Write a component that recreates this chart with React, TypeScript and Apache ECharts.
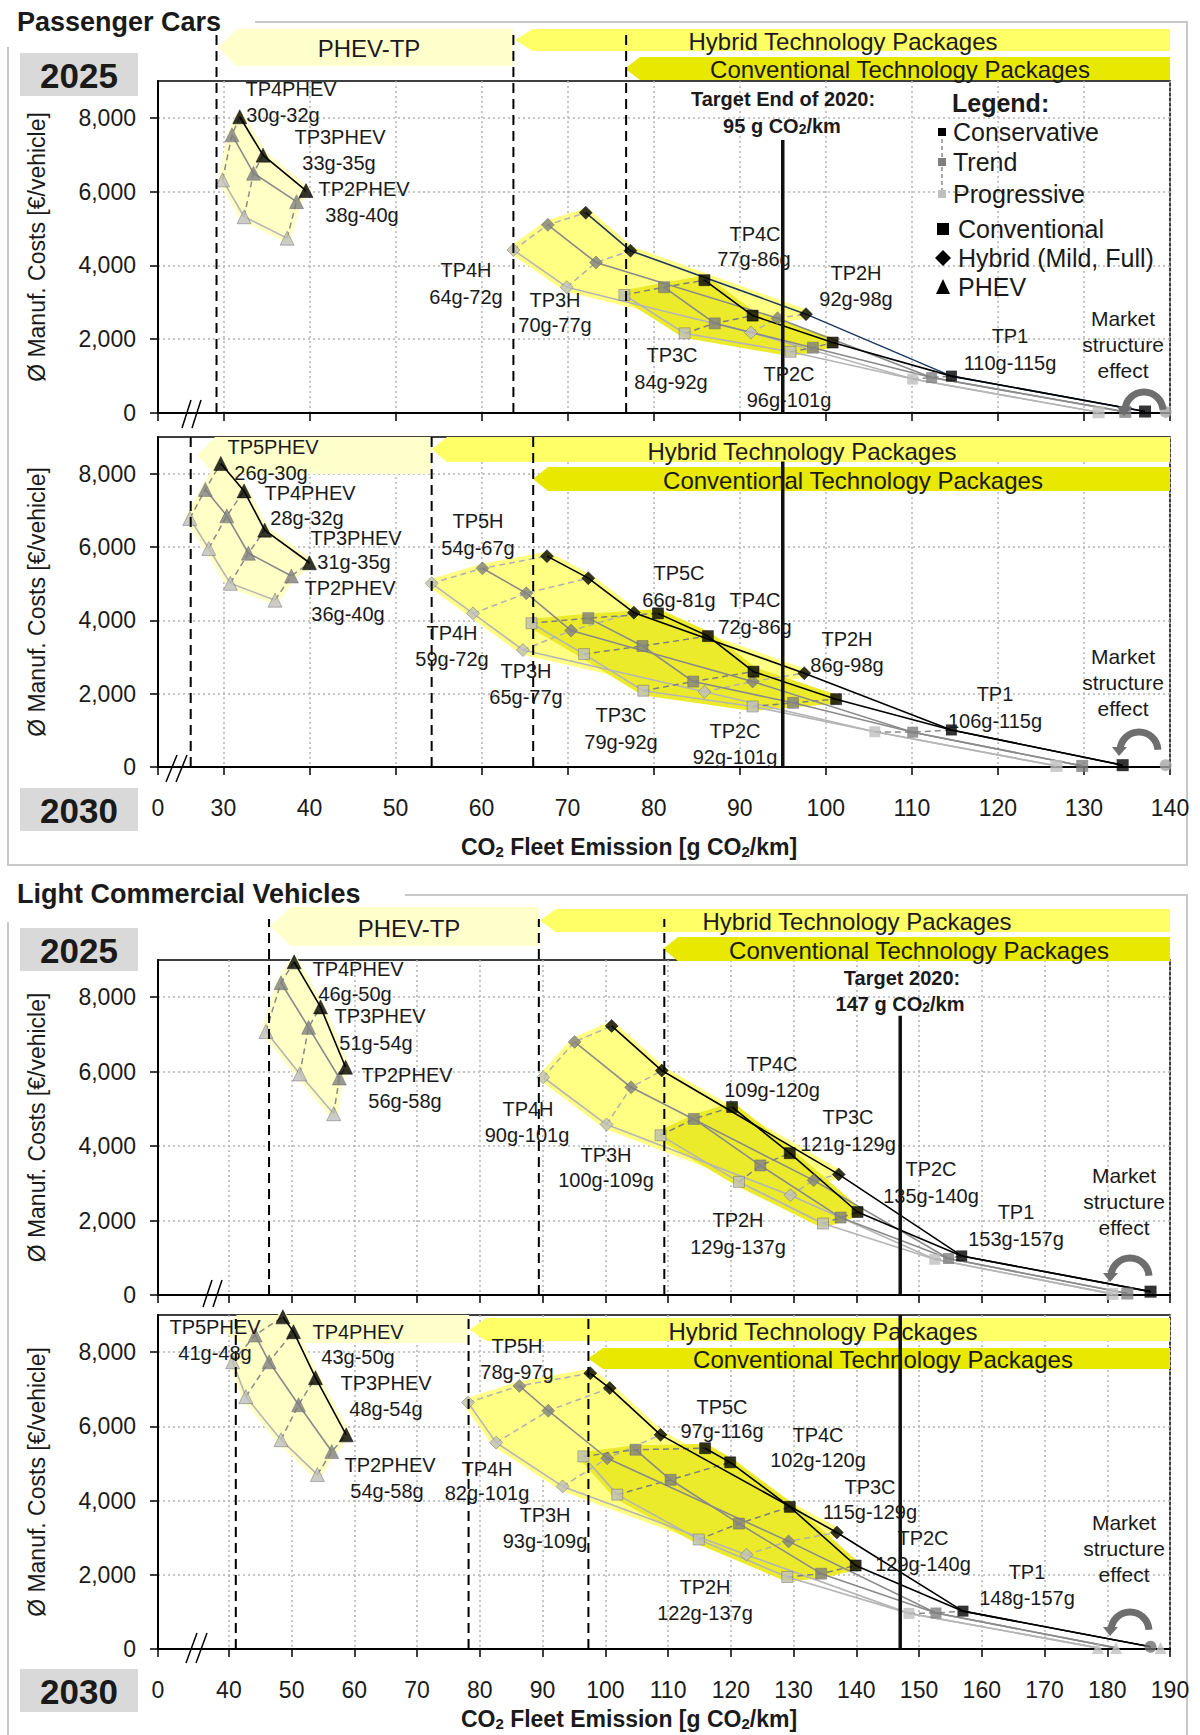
import React, { useEffect, useRef } from "react";
import * as echarts from "echarts";

const FONT = "'Liberation Sans', Arial, Helvetica, sans-serif";

// ---------------- DATA ----------------
// [CO2 fleet emission g/km, average manufacturing cost €/vehicle]
// Each technology: conservative, trend, progressive; packages from the highest TP down.

// Passenger cars 2025
const PC25_PHEV_CONS = [[31.9, 8030], [34.6, 6990], [39.6, 6030]];
const PC25_PHEV_TREND = [[31.0, 7540], [33.5, 6500], [38.5, 5730]];
const PC25_PHEV_PROG = [[29.9, 6320], [32.4, 5320], [37.4, 4740]];
const PC25_HYB_CONS = [[72.1, 5430], [77.3, 4400], [97.7, 2680]];
const PC25_HYB_TREND = [[67.7, 5100], [73.3, 4080], [94.4, 2570]];
const PC25_HYB_PROG = [[63.7, 4420], [69.9, 3410], [91.3, 2180]];
const PC25_CONV_CONS = [[85.9, 3600], [91.5, 2640], [100.8, 1910]];
const PC25_CONV_TREND = [[81.2, 3410], [87.1, 2430], [98.5, 1770]];
const PC25_CONV_PROG = [[76.6, 3200], [83.6, 2160], [95.9, 1660]];
const PC25_TP1 = [[114.6, 1000], [112.3, 960], [110.1, 920]];
const PC25_BASE = [[137.1, 40], [134.8, 30], [131.7, 20]];
const PC25_MARKET = [[139.5, 30]];

// Passenger cars 2030
const PC30_PHEV_CONS = [[29.7, 8280], [32.4, 7530], [34.8, 6460], [40.0, 5570]];
const PC30_PHEV_TREND = [[27.9, 7570], [30.4, 6850], [32.9, 5830], [37.9, 5210]];
const PC30_PHEV_PROG = [[26.1, 6780], [28.3, 5960], [30.8, 5010], [36.0, 4550]];
const PC30_HYB_CONS = [[67.6, 5750], [72.4, 5150], [77.7, 4210], [97.5, 2560]];
const PC30_HYB_TREND = [[60.1, 5420], [65.2, 4740], [70.4, 3720], [91.5, 2330]];
const PC30_HYB_PROG = [[54.2, 5010], [59.0, 4190], [64.8, 3190], [85.9, 2050]];
const PC30_CONV_CONS = [[80.5, 4190], [86.3, 3570], [91.6, 2600], [101.2, 1850]];
const PC30_CONV_TREND = [[72.4, 4060], [78.7, 3300], [84.6, 2330], [96.2, 1750]];
const PC30_CONV_PROG = [[65.8, 3920], [71.9, 3080], [78.8, 2080], [91.5, 1650]];
const PC30_TP1 = [[114.6, 1010], [110.1, 950], [105.7, 960]];
const PC30_BASE = [[134.5, 50], [129.8, 30], [126.8, 30]];
const PC30_MARKET = [[139.5, 50]];

// Light commercial vehicles 2025
const LCV25_PHEV_CONS = [[50.4, 8950], [54.6, 7740], [58.6, 6120]];
const LCV25_PHEV_TREND = [[48.3, 8390], [52.7, 7190], [57.6, 5830]];
const LCV25_PHEV_PROG = [[45.9, 7080], [51.3, 5940], [56.7, 4870]];
const LCV25_HYB_CONS = [[101.0, 7230], [109.0, 6030], [137.2, 3240]];
const LCV25_HYB_TREND = [[95.1, 6800], [104.1, 5580], [133.2, 3080]];
const LCV25_HYB_PROG = [[90.1, 5850], [100.2, 4580], [129.5, 2680]];
const LCV25_CONV_CONS = [[120.2, 5050], [129.4, 3810], [140.2, 2230]];
const LCV25_CONV_TREND = [[114.1, 4730], [124.7, 3480], [137.5, 2080]];
const LCV25_CONV_PROG = [[108.8, 4290], [121.3, 3040], [134.7, 1920]];
const LCV25_TP1 = [[156.8, 1050], [154.7, 980], [152.5, 960]];
const LCV25_BASE = [[186.9, 90], [183.2, 40], [180.8, 30]];
const LCV25_MARKET: number[][] = [];

// Light commercial vehicles 2030
const LCV30_PHEV_CONS = [[48.6, 8950], [50.3, 8550], [53.8, 7310], [58.7, 5770]];
const LCV30_PHEV_TREND = [[44.2, 8460], [46.4, 7740], [51.1, 6580], [56.4, 5320]];
const LCV30_PHEV_PROG = [[40.6, 7740], [42.7, 6800], [48.3, 5640], [54.1, 4700]];
const LCV30_HYB_CONS = [[97.6, 7430], [100.7, 7030], [108.8, 5770], [136.9, 3140]];
const LCV30_HYB_TREND = [[86.3, 7090], [90.9, 6420], [100.3, 5140], [129.2, 2900]];
const LCV30_HYB_PROG = [[78.1, 6640], [82.6, 5560], [93.2, 4380], [122.5, 2540]];
const LCV30_CONV_CONS = [[115.9, 5410], [119.9, 5030], [129.4, 3830], [139.9, 2250]];
const LCV30_CONV_TREND = [[104.8, 5370], [110.4, 4560], [121.3, 3380], [134.4, 2030]];
const LCV30_CONV_PROG = [[96.5, 5190], [101.9, 4160], [114.9, 2950], [129.0, 1940]];
const LCV30_TP1 = [[157.0, 1020], [152.7, 970], [148.4, 960]];
const LCV30_BASE = [[186.9, 60], [181.4, 30], [178.5, 30]];
const LCV30_MARKET = [[188.5, 30]];

// Targets and package boundaries
const PC_TARGET = 95;
const LCV_TARGET = 147;
const PC25_BOUNDS = [29.2, 63.7, 76.8];
const PC30_BOUNDS = [26.2, 54.2, 66.0];
const LCV25_BOUNDS = [46.4, 89.4, 109.4];
const LCV30_BOUNDS = [41.1, 78.2, 97.3];

// Axes
const PC_X_ORIGIN = 22.4;
const PC_X_TICKS = [30, 40, 50, 60, 70, 80, 90, 100, 110, 120, 130, 140];
const LCV_X_ORIGIN = 28.7;
const LCV_X_TICKS = [40, 50, 60, 70, 80, 90, 100, 110, 120, 130, 140, 150, 160, 170, 180, 190];
const Y_TICKS = [0, 2000, 4000, 6000, 8000];
const Y_MAX = 9000;

// Labels: [package, range]
const PC25_LABELS = [
  ["TP4PHEV", "30g-32g"], ["TP3PHEV", "33g-35g"], ["TP2PHEV", "38g-40g"], ["TP4H", "64g-72g"],
  ["TP3H", "70g-77g"], ["TP4C", "77g-86g"], ["TP2H", "92g-98g"], ["TP3C", "84g-92g"],
  ["TP2C", "96g-101g"], ["TP1", "110g-115g"],
];
const PC30_LABELS = [
  ["TP5PHEV", "26g-30g"], ["TP4PHEV", "28g-32g"], ["TP3PHEV", "31g-35g"], ["TP2PHEV", "36g-40g"],
  ["TP5H", "54g-67g"], ["TP4H", "59g-72g"], ["TP3H", "65g-77g"], ["TP5C", "66g-81g"],
  ["TP4C", "72g-86g"], ["TP2H", "86g-98g"], ["TP3C", "79g-92g"], ["TP2C", "92g-101g"], ["TP1", "106g-115g"],
];
const LCV25_LABELS = [
  ["TP4PHEV", "46g-50g"], ["TP3PHEV", "51g-54g"], ["TP2PHEV", "56g-58g"], ["TP4H", "90g-101g"],
  ["TP3H", "100g-109g"], ["TP4C", "109g-120g"], ["TP3C", "121g-129g"], ["TP2C", "135g-140g"],
  ["TP2H", "129g-137g"], ["TP1", "153g-157g"],
];
const LCV30_LABELS = [
  ["TP5PHEV", "41g-48g"], ["TP4PHEV", "43g-50g"], ["TP3PHEV", "48g-54g"], ["TP2PHEV", "54g-58g"],
  ["TP5H", "78g-97g"], ["TP4H", "82g-101g"], ["TP3H", "93g-109g"], ["TP5C", "97g-116g"],
  ["TP4C", "102g-120g"], ["TP3C", "115g-129g"], ["TP2C", "129g-140g"], ["TP2H", "122g-137g"], ["TP1", "148g-157g"],
];

// ---------------- LAYOUT ----------------
const GRIDS = [
  { left: 158, top: 81, width: 1012, height: 332 },
  { left: 158, top: 437, width: 1012, height: 330 },
  { left: 158, top: 960, width: 1012, height: 335 },
  { left: 158, top: 1315, width: 1012, height: 334 },
];
// label positions: [x1, y1, x2, y2]
const LABEL_POS = [
  [[291, 89, 283, 115], [340, 137, 339, 163], [364, 189, 362, 215], [466, 270, 466, 297], [555, 300, 555, 325],
   [755, 234, 754, 259], [856, 273, 856, 299], [672, 355, 671, 382], [789, 374, 789, 400], [1010, 336, 1010, 363]],
  [[273, 447, 271, 473], [310, 493, 307, 518], [356, 538, 354, 562], [350, 588, 348, 614], [478, 521, 478, 548],
   [452, 633, 452, 659], [526, 671, 526, 697], [679, 573, 679, 600], [755, 600, 755, 627], [847, 639, 847, 665],
   [621, 715, 621, 742], [735, 731, 735, 757], [995, 694, 995, 721]],
  [[358, 969, 355, 994], [380, 1016, 376, 1043], [407, 1075, 405, 1101], [528, 1109, 527, 1135], [606, 1155, 606, 1180],
   [772, 1064, 772, 1090], [848, 1117, 848, 1144], [931, 1169, 931, 1196], [738, 1220, 738, 1247], [1016, 1212, 1016, 1239]],
  [[215, 1327, 215, 1353], [358, 1332, 358, 1357], [386, 1383, 386, 1409], [390, 1465, 387, 1491], [517, 1346, 517, 1372],
   [487, 1469, 487, 1493], [545, 1515, 545, 1541], [722, 1407, 722, 1431], [818, 1435, 818, 1460], [870, 1487, 870, 1512],
   [923, 1538, 923, 1564], [705, 1587, 705, 1613], [1027, 1572, 1027, 1598]],
];
const MARKET_POS = [[1123, 318], [1123, 656], [1124, 1175], [1124, 1522]];
const ARC_POS = [[1144, 411], [1139, 751], [1130, 1277], [1130, 1631]];
const BREAK_POS = [[182, 428, 191, 400], [166, 782, 177, 755], [203, 1307, 212, 1280], [186, 1663, 197, 1633]];
const YEAR_BOX = [["2025", 53], ["2030", 788], ["2025", 928], ["2030", 1669]];

const PANELS = [
  {
    phev: [PC25_PHEV_CONS, PC25_PHEV_TREND, PC25_PHEV_PROG], hyb: [PC25_HYB_CONS, PC25_HYB_TREND, PC25_HYB_PROG],
    conv: [PC25_CONV_CONS, PC25_CONV_TREND, PC25_CONV_PROG], tp1: PC25_TP1, base: PC25_BASE, market: PC25_MARKET,
    target: PC_TARGET, targetTop: 7400, bounds: PC25_BOUNDS, boundTop: 10330, labels: PC25_LABELS,
    xo: PC_X_ORIGIN, xmax: 140, xt: PC_X_TICKS, showX: false, hybCons: "#1f3864",
    baseSym: ["rect", "rect", "rect"], baseCol: ["#000", "#7f7f7f", "#bfbfbf"], mSym: "circle", mCol: "#a6a6a6",
  },
  {
    phev: [PC30_PHEV_CONS, PC30_PHEV_TREND, PC30_PHEV_PROG], hyb: [PC30_HYB_CONS, PC30_HYB_TREND, PC30_HYB_PROG],
    conv: [PC30_CONV_CONS, PC30_CONV_TREND, PC30_CONV_PROG], tp1: PC30_TP1, base: PC30_BASE, market: PC30_MARKET,
    target: PC_TARGET, targetTop: 8330, bounds: PC30_BOUNDS, boundTop: 9000, labels: PC30_LABELS,
    xo: PC_X_ORIGIN, xmax: 140, xt: PC_X_TICKS, showX: true, hybCons: "#000",
    baseSym: ["rect", "rect", "rect"], baseCol: ["#000", "#7f7f7f", "#bfbfbf"], mSym: "circle", mCol: "#a6a6a6",
  },
  {
    phev: [LCV25_PHEV_CONS, LCV25_PHEV_TREND, LCV25_PHEV_PROG], hyb: [LCV25_HYB_CONS, LCV25_HYB_TREND, LCV25_HYB_PROG],
    conv: [LCV25_CONV_CONS, LCV25_CONV_TREND, LCV25_CONV_PROG], tp1: LCV25_TP1, base: LCV25_BASE, market: LCV25_MARKET,
    target: LCV_TARGET, targetTop: 7500, bounds: LCV25_BOUNDS, boundTop: 10100, labels: LCV25_LABELS,
    xo: LCV_X_ORIGIN, xmax: 190, xt: LCV_X_TICKS, showX: false, hybCons: "#000",
    baseSym: ["rect", "rect", "rect"], baseCol: ["#000", "#7f7f7f", "#bfbfbf"], mSym: "circle", mCol: "#a6a6a6",
  },
  {
    phev: [LCV30_PHEV_CONS, LCV30_PHEV_TREND, LCV30_PHEV_PROG], hyb: [LCV30_HYB_CONS, LCV30_HYB_TREND, LCV30_HYB_PROG],
    conv: [LCV30_CONV_CONS, LCV30_CONV_TREND, LCV30_CONV_PROG], tp1: LCV30_TP1, base: LCV30_BASE, market: LCV30_MARKET,
    target: LCV_TARGET, targetTop: 9000, bounds: LCV30_BOUNDS, boundTop: 9000, labels: LCV30_LABELS,
    xo: LCV_X_ORIGIN, xmax: 190, xt: LCV_X_TICKS, showX: true, hybCons: "#000",
    baseSym: ["circle", "triangle", "triangle"], baseCol: ["#6f6f6f", "#bfbfbf", "#bfbfbf"], mSym: "triangle", mCol: "#bfbfbf",
  },
];

// banners: [tipX, fullX, rightX, top, bottom, fill, text, textX, textY]
const BANNERS: any[] = [
  [218, 237, 513, 29, 66, "#ffffcc", "PHEV-TP", 369, 48],
  [515, 533, 1170, 29, 51, "#ffff66", "Hybrid Technology Packages", 843, 41],
  [625, 640, 1170, 57, 80, "#e8e800", "Conventional Technology Packages", 900, 69],
  [197, 215, 432, 437, 474, "#ffffcc", "", 0, 0],
  [432, 447, 1170, 437, 462, "#ffff66", "Hybrid Technology Packages", 802, 451],
  [533, 548, 1170, 467, 491, "#e8e800", "Conventional Technology Packages", 853, 480],
  [270, 291, 539, 907, 946, "#ffffcc", "PHEV-TP", 409, 928],
  [540, 556, 1170, 909, 932, "#ffff66", "Hybrid Technology Packages", 857, 921],
  [663, 678, 1170, 937, 961, "#e8e800", "Conventional Technology Packages", 919, 950],
  [222, 237, 469, 1315, 1343, "#ffffcc", "", 0, 0],
  [470, 486, 1170, 1318, 1341, "#ffff66", "Hybrid Technology Packages", 823, 1331],
  [588, 603, 1170, 1348, 1369, "#e8e800", "Conventional Technology Packages", 883, 1359],
];

const SC_MARK = ["#000000", "#7f7f7f", "#bfbfbf"];
const SC_LINE = ["#000000", "#8a8a8a", "#b5b5b5"];

function txt(x: number, y: number, text: string, size: number, extra: any = {}) {
  return {
    type: "text", x, y, z: 20, silent: true,
    style: {
      text, fill: "#1a1a1a", fontSize: size, fontFamily: FONT, fontWeight: extra.bold ? "bold" : "normal",
      align: extra.align || "center", textAlign: extra.align || "center",
      verticalAlign: "middle", textVerticalAlign: "middle", rich: extra.rich,
    },
  };
}

function buildOption() {
  const series: any[] = [];
  const graphic: any[] = [];

  PANELS.forEach((P, g) => {
    const ax = { xAxisIndex: g, yAxisIndex: g };
    const techs = [
      { key: "phev", sets: P.phev, sym: "triangle", size: 14, fill: "#ffffc6", z: 2, ext: false, dash: "#8a8a8a" },
      { key: "hyb", sets: P.hyb, sym: "diamond", size: 13, fill: "#ffff84", z: 2, ext: true, dash: "#b0b0b0" },
      { key: "conv", sets: P.conv, sym: "rect", size: 11, fill: "#ebeb2c", z: 3, ext: true, dash: "#7f7f7f" },
    ];
    // hull fills
    techs.forEach((t) => {
      const [c, tr, pr] = t.sets;
      const n = c.length;
      const outline = [...c, tr[n - 1], ...pr.slice().reverse(), tr[0]];
      series.push({
        type: "custom", ...ax, z: t.z, silent: true, clip: false, data: [outline[0]],
        renderItem: (_p: any, api: any) => ({
          type: "polygon",
          shape: { points: outline.map((p) => api.coord(p)) },
          style: { fill: t.fill, stroke: t.fill, lineWidth: 9, lineJoin: "round" },
        }),
      });
    });
    // boundaries & target
    P.bounds.forEach((b) => {
      series.push({
        type: "line", ...ax, data: [[b, 0], [b, P.boundTop]], symbol: "none", clip: false, z: 6, silent: true,
        lineStyle: { color: "#000", width: 2, type: [10, 6] },
      });
    });
    series.push({
      type: "line", ...ax, data: [[P.target, 0], [P.target, P.targetTop]], symbol: "none", clip: false, z: 6, silent: true,
      lineStyle: { color: "#111", width: 3.5 },
    });
    // scenario lines (progressive first, conservative on top)
    techs.forEach((t) => {
      [2, 1, 0].forEach((s) => {
        const pts = t.sets[s];
        const data = t.ext ? [...pts, P.tp1[s], P.base[s]] : pts;
        const color = s === 0 && t.key === "hyb" ? P.hybCons : SC_LINE[s];
        series.push({
          type: "line", ...ax, data, symbol: "none", z: 4 + (2 - s) * 0.1, silent: true,
          lineStyle: { color, width: 1.6 },
        });
      });
      const n = t.sets[0].length;
      for (let i = 0; i < n; i++) {
        series.push({
          type: "line", ...ax, data: [t.sets[2][i], t.sets[1][i], t.sets[0][i]], symbol: "none", z: 4, silent: true,
          lineStyle: { color: t.dash, width: 1.5, type: [6, 4] },
        });
      }
    });
    series.push({
      type: "line", ...ax, data: [P.tp1[2], P.tp1[1], P.tp1[0]], symbol: "none", z: 4, silent: true,
      lineStyle: { color: "#8a8a8a", width: 1.5, type: [6, 4] },
    });
    // markers
    techs.forEach((t) => {
      [2, 1, 0].forEach((s) => {
        series.push({
          type: "scatter", ...ax, data: t.sets[s], symbol: t.sym, symbolSize: t.size, z: 5 + (2 - s) * 0.1, silent: true,
          itemStyle: { color: SC_MARK[s], borderColor: s === 0 ? "#000" : "#6a6a6a", borderWidth: 0.6 },
        });
      });
    });
    [2, 1, 0].forEach((s) => {
      series.push({
        type: "scatter", ...ax, data: [P.tp1[s]], symbol: "rect", symbolSize: 11, z: 5.5, silent: true,
        itemStyle: { color: SC_MARK[s] },
      });
      series.push({
        type: "scatter", ...ax, data: [P.base[s]], symbol: P.baseSym[s], symbolSize: 12, z: 5.5, silent: true, clip: false,
        itemStyle: { color: P.baseCol[s] },
      });
    });
    if (P.market.length) {
      series.push({
        type: "scatter", ...ax, data: P.market, symbol: P.mSym, symbolSize: 12, z: 5.5, silent: true, clip: false,
        itemStyle: { color: P.mCol },
      });
    }

    // labels
    P.labels.forEach((lab, i) => {
      const pos = LABEL_POS[g][i];
      graphic.push(txt(pos[0], pos[1], lab[0], 20));
      graphic.push(txt(pos[2], pos[3], lab[1], 20));
    });
    const mp = MARKET_POS[g];
    graphic.push(txt(mp[0], mp[1], "Market", 21));
    graphic.push(txt(mp[0], mp[1] + 26, "structure", 21));
    graphic.push(txt(mp[0], mp[1] + 52, "effect", 21));
    const ap = ARC_POS[g];
    graphic.push({
      type: "arc", z: 20, silent: true,
      shape: { cx: ap[0], cy: ap[1], r: 19, startAngle: Math.PI * 1.02, endAngle: Math.PI * 1.98, clockwise: true },
      style: { stroke: "#6e6e6e", lineWidth: 7, fill: null },
    });
    graphic.push({
      type: "polygon", z: 20, silent: true,
      shape: { points: [[ap[0] - 27, ap[1] - 4], [ap[0] - 12, ap[1] - 4], [ap[0] - 20, ap[1] + 5]] },
      style: { fill: "#6e6e6e" },
    });
    const bp = BREAK_POS[g];
    graphic.push({ type: "line", z: 20, silent: true, shape: { x1: bp[0], y1: bp[1], x2: bp[2], y2: bp[3] }, style: { stroke: "#000", lineWidth: 1.5 } });
    graphic.push({ type: "line", z: 20, silent: true, shape: { x1: bp[0] + 10, y1: bp[1], x2: bp[2] + 10, y2: bp[3] }, style: { stroke: "#000", lineWidth: 1.5 } });
    const yb = YEAR_BOX[g];
    graphic.push({ type: "rect", z: 1, silent: true, shape: { x: 20, y: yb[1] as number, width: 118, height: 43 }, style: { fill: "#d9d9d9" } });
    graphic.push(txt(79, (yb[1] as number) + 22, yb[0] as string, 35, { bold: true }));
  });

  // banners
  BANNERS.forEach((b) => {
    const mid = (b[3] + b[4]) / 2;
    graphic.push({
      type: "polygon", z: 1, silent: true,
      shape: { points: [[b[0], mid], [b[1], b[3]], [b[2], b[3]], [b[2], b[4]], [b[1], b[4]]] },
      style: { fill: b[5] },
    });
    if (b[6]) graphic.push(txt(b[7], b[8], b[6], 24));
  });

  // frames & section titles
  graphic.push({ type: "polyline", z: 0, silent: true, shape: { points: [[255, 22], [1187, 22], [1187, 865], [8, 865], [8, 47]] }, style: { stroke: "#c8c8c8", lineWidth: 2, fill: null } });
  graphic.push({ type: "polyline", z: 0, silent: true, shape: { points: [[405, 895], [1187, 895], [1187, 1735]] }, style: { stroke: "#c8c8c8", lineWidth: 2, fill: null } });
  graphic.push({ type: "line", z: 0, silent: true, shape: { x1: 8, y1: 922, x2: 8, y2: 1735 }, style: { stroke: "#c8c8c8", lineWidth: 2 } });
  graphic.push(txt(17, 22, "Passenger Cars", 27, { bold: true, align: "left" }));
  graphic.push(txt(17, 894, "Light Commercial Vehicles", 27, { bold: true, align: "left" }));

  // targets
  const sub = { s: { fontSize: 14, fontWeight: "bold", fontFamily: FONT, verticalAlign: "bottom", lineHeight: 14 } };
  graphic.push(txt(783, 99, "Target End of 2020:", 20, { bold: true }));
  graphic.push(txt(782, 126, "95 g CO{s|2}/km", 20, { bold: true, rich: sub }));
  graphic.push(txt(902, 978, "Target 2020:", 20, { bold: true }));
  graphic.push(txt(900, 1004, "147 g CO{s|2}/km", 20, { bold: true, rich: sub }));

  // x axis titles
  const subX = { s: { fontSize: 15, fontWeight: "bold", fontFamily: FONT, verticalAlign: "bottom", lineHeight: 15 } };
  graphic.push(txt(629, 847, "CO{s|2} Fleet Emission [g CO{s|2}/km]", 23, { bold: true, rich: subX }));
  graphic.push(txt(629, 1719, "CO{s|2} Fleet Emission [g CO{s|2}/km]", 23, { bold: true, rich: subX }));

  // legend
  graphic.push(txt(952, 103, "Legend:", 25, { bold: true, align: "left" }));
  graphic.push({ type: "line", z: 19, silent: true, shape: { x1: 942, y1: 132, x2: 942, y2: 194 }, style: { stroke: "#8a8a8a", lineWidth: 1.5, lineDash: [4, 3] } });
  [["#000", 132, "Conservative"], ["#7f7f7f", 162, "Trend"], ["#bfbfbf", 194, "Progressive"]].forEach((l: any) => {
    graphic.push({ type: "rect", z: 20, silent: true, shape: { x: 938, y: l[1] - 4, width: 8, height: 8 }, style: { fill: l[0] } });
    graphic.push(txt(953, l[1], l[2], 25, { align: "left" }));
  });
  graphic.push({ type: "rect", z: 20, silent: true, shape: { x: 937, y: 223, width: 12, height: 12 }, style: { fill: "#000" } });
  graphic.push(txt(958, 229, "Conventional", 25, { align: "left" }));
  graphic.push({ type: "polygon", z: 20, silent: true, shape: { points: [[943, 250], [951, 258], [943, 266], [935, 258]] }, style: { fill: "#000" } });
  graphic.push(txt(958, 258, "Hybrid (Mild, Full)", 25, { align: "left" }));
  graphic.push({ type: "polygon", z: 20, silent: true, shape: { points: [[943, 279], [950, 294], [936, 294]] }, style: { fill: "#000" } });
  graphic.push(txt(958, 287, "PHEV", 25, { align: "left" }));

  const xAxis = PANELS.map((P, g) => {
    const ticks = [P.xo, ...P.xt];
    return {
      type: "value", gridIndex: g, min: P.xo, max: P.xmax,
      axisLine: { show: true, onZero: false, lineStyle: { color: "#000", width: 2 } },
      axisTick: { show: true, customValues: ticks, length: 8, lineStyle: { color: "#000", width: 1.5 } },
      axisLabel: {
        show: P.showX, customValues: ticks, margin: 29, fontSize: 23, color: "#1a1a1a", fontFamily: FONT,
        formatter: (v: number) => (Math.abs(v - P.xo) < 1e-6 ? "0" : String(v)),
      },
      splitLine: { show: true, lineStyle: { color: "#b4b4b4", width: 1.5, type: [2, 3] } },
    };
  });
  const yAxis = PANELS.map((_P, g) => ({
    type: "value", gridIndex: g, min: 0, max: Y_MAX,
    name: "Ø Manuf. Costs [€/vehicle]", nameLocation: "middle", nameGap: 110, nameRotate: 90,
    nameTextStyle: { fontSize: 23, color: "#1a1a1a", fontFamily: FONT },
    axisLine: { show: true, onZero: false, lineStyle: { color: "#000", width: 2 } },
    axisTick: { show: true, customValues: Y_TICKS, length: 8, lineStyle: { color: "#000", width: 1.5 } },
    axisLabel: {
      customValues: Y_TICKS, margin: 22, fontSize: 23, color: "#1a1a1a", fontFamily: FONT,
      formatter: (v: number) => v.toLocaleString("en-US"),
    },
    splitLine: { show: true, lineStyle: { color: "#b4b4b4", width: 1.5, type: [2, 3] } },
  }));

  return {
    animation: false,
    backgroundColor: "#ffffff",
    textStyle: { fontFamily: FONT },
    grid: GRIDS.map((gr) => ({ ...gr, show: true, borderColor: "#000", borderWidth: 1.5, backgroundColor: "transparent" })),
    xAxis,
    yAxis,
    series,
    graphic: { elements: graphic },
  };
}

export default function App() {
  const ref = useRef<HTMLDivElement>(null);
  useEffect(() => {
    const chart = echarts.init(ref.current as HTMLDivElement, null, { renderer: "svg" });
    chart.setOption(buildOption() as any);
    return () => chart.dispose();
  }, []);
  return (
    <div
      ref={ref}
      style={{ position: "absolute", left: 0, top: 0, width: 1200, height: 1735, background: "#fff" }}
    />
  );
}
